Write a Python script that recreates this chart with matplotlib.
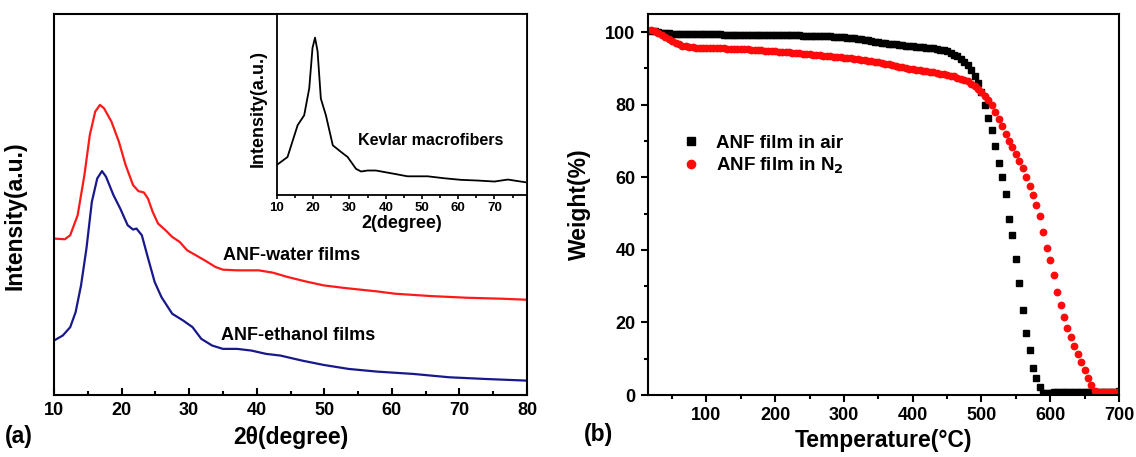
import numpy as np
import matplotlib
matplotlib.use("Agg")
import matplotlib.pyplot as plt
from matplotlib.ticker import MultipleLocator, NullLocator

plt.rcParams['font.family'] = ['Liberation Sans', 'DejaVu Sans']
plt.rcParams['font.weight'] = 'bold'
plt.rcParams['axes.labelweight'] = 'bold'

# ---------------- Panel (a): XRD ----------------
water_2theta = [10, 11.6, 12.4, 13.5, 14.5, 15.3, 16.1, 16.8, 17.4, 18.5, 19.6, 20.6, 21.7, 22.5,
                23.3, 23.9, 24.6, 25.4, 26.5, 27.5, 28.6, 29.7, 31, 32.3, 33.9, 35, 37.1, 40.3,
                42.4, 44.6, 47.2, 49.9, 53.1, 57.8, 60.5, 65.8, 71.1, 76.4, 80]
water_int = [468, 466, 478, 538, 658, 778, 848, 868, 858, 818, 758, 688, 628, 610,
             606, 588, 548, 513, 493, 473, 458, 433, 418, 403, 383, 375, 373, 373,
             366, 353, 340, 328, 320, 310, 303, 296, 291, 288, 285]

ethanol_2theta = [10, 11.3, 12.4, 13.2, 14, 14.8, 15.6, 16.4, 17.1, 17.7, 18.8, 19.8, 20.9, 21.7,
                  22.2, 23, 23.8, 24.9, 25.9, 27.5, 29.1, 30.5, 31.8, 33.4, 35, 37.1, 39.2,
                  41.4, 43.5, 46.7, 49.9, 53.6, 57.8, 63.2, 68.5, 73.8, 80]
ethanol_int = [163, 178, 203, 248, 328, 438, 578, 648, 670, 653, 598, 558, 508, 495,
               498, 478, 418, 338, 293, 243, 223, 203, 168, 148, 138, 138, 133,
               123, 118, 103, 90, 78, 70, 63, 53, 48, 43]

kevlar_2theta = [10, 12.9, 15.7, 17.5, 18.9, 19.8, 20.5, 21.2, 22.1, 23.5, 25.4, 27.7, 29.5,
                 31.8, 33.2, 35, 37.3, 42.4, 46, 51.6, 56.2, 60.8, 65.4, 70, 73.7, 78.5]
kevlar_int = [30.7, 38.6, 71, 81, 108.5, 149.5, 160, 146, 98, 81, 50.5, 43.7, 38.6,
              26.6, 23.9, 24.9, 24.9, 21.5, 19, 19, 17, 15.4, 14.7, 13.7, 15.7, 13]

# ---------------- Panel (b): TGA ----------------
temperature = np.arange(20, 705, 5)
weight_air = [100.4, 100.2, 100.0, 99.9, 99.8, 99.7, 99.6, 99.6, 99.5, 99.5,
              99.5, 99.5, 99.5, 99.4, 99.4, 99.4, 99.4, 99.4, 99.4, 99.4,
              99.4, 99.3, 99.3, 99.3, 99.3, 99.3, 99.3, 99.3, 99.3, 99.3,
              99.2, 99.2, 99.2, 99.2, 99.2, 99.2, 99.2, 99.2, 99.2, 99.1,
              99.1, 99.1, 99.1, 99.1, 99.0, 99.0, 99.0, 99.0, 98.9, 98.9,
              98.9, 98.8, 98.8, 98.7, 98.7, 98.6, 98.6, 98.5, 98.4, 98.3,
              98.2, 98.0, 97.9, 97.7, 97.5, 97.3, 97.2, 97.0, 96.9, 96.8,
              96.7, 96.6, 96.5, 96.4, 96.3, 96.2, 96.1, 96.0, 95.9, 95.8,
              95.7, 95.6, 95.5, 95.3, 95.2, 95.0, 94.7, 94.3, 93.8, 93.3,
              92.7, 91.9, 90.9, 89.6, 87.9, 85.9, 83.5, 79.8, 76.3, 73.0,
              68.5, 64.0, 60.0, 55.5, 48.6, 44.0, 37.5, 31.0, 23.5, 17.2,
              12.5, 7.5, 4.8, 2.2, 0.6, 0.6, 0.6, 0.7, 0.7, 0.7,
              0.7, 0.8, 0.8, 0.8, 0.9, 0.9, 0.9, 0.8, 0.8, 0.8,
              0.8, 0.9, 0.9, 0.9, 0.9, 0.9, 1.0]
weight_n2 = [100.6, 100.2, 99.7, 99.2, 98.6, 98.1, 97.5, 97.0, 96.6, 96.3,
             96.1, 95.9, 95.8, 95.7, 95.7, 95.6, 95.6, 95.6, 95.5, 95.5,
             95.5, 95.5, 95.4, 95.4, 95.4, 95.4, 95.3, 95.3, 95.3, 95.2,
             95.1, 95.0, 95.0, 94.9, 94.8, 94.8, 94.7, 94.6, 94.6, 94.5,
             94.4, 94.3, 94.3, 94.2, 94.1, 94.0, 93.9, 93.8, 93.7, 93.6,
             93.5, 93.4, 93.3, 93.2, 93.2, 93.1, 93.0, 92.9, 92.8, 92.6,
             92.5, 92.4, 92.3, 92.1, 92.0, 91.8, 91.7, 91.5, 91.3, 91.1,
             90.9, 90.7, 90.5, 90.3, 90.1, 89.9, 89.8, 89.6, 89.5, 89.3,
             89.2, 89.0, 88.9, 88.7, 88.6, 88.4, 88.3, 88.0, 87.8, 87.5,
             87.2, 86.8, 86.4, 85.8, 85.2, 84.4, 83.5, 82.4, 81.2, 79.8,
             78.0, 76.0, 74.0, 72.0, 70.0, 68.3, 66.5, 64.5, 62.5, 60.0,
             57.5, 55.0, 52.3, 49.2, 45.0, 40.5, 37.2, 33.0, 28.3, 24.7,
             21.4, 18.6, 15.9, 13.5, 11.4, 9.1, 6.8, 4.7, 2.8, 1.1,
             0.8, 0.8, 0.9, 0.9, 0.8, 0.9, 0.9]

W, H = 1136, 457
fig = plt.figure(figsize=(W / 100, H / 100), dpi=100)

def frac(l, t, r, b):
    return [l / W, 1 - b / H, (r - l) / W, (b - t) / H]

# ---- main (a)
axa = fig.add_axes(frac(54, 14, 527, 395))
axa.plot(water_2theta, water_int, color='#ff1a1a', lw=1.6)
axa.plot(ethanol_2theta, ethanol_int, color='#18188c', lw=1.6)
axa.set_xlim(10, 80)
axa.set_ylim(0, 1140)
axa.xaxis.set_major_locator(MultipleLocator(10))
axa.xaxis.set_minor_locator(MultipleLocator(5))
axa.yaxis.set_major_locator(NullLocator())
axa.tick_params(axis='x', which='major', direction='in', length=5, width=1.5,
                labelsize=13, pad=5)
axa.tick_params(axis='x', which='minor', direction='in', length=3, width=1.5)
for lab in axa.get_xticklabels():
    lab.set_fontweight('bold')
for s in axa.spines.values():
    s.set_linewidth(1.5)
axa.set_xlabel('2θ(degree)', fontsize=16.5, fontweight='bold', labelpad=5)
axa.set_ylabel('Intensity(a.u.)', fontsize=16.5, fontweight='bold')
axa.yaxis.set_label_coords(-0.058, 0.47)
axa.text(35, 416, 'ANF-water films', fontsize=13, fontweight='bold', va='center', ha='left')
axa.text(34.7, 178, 'ANF-ethanol films', fontsize=13, fontweight='bold', va='center', ha='left')
fig.text(5 / W, 1 - 437 / H, '(a)', fontsize=16.5, fontweight='bold', va='center', ha='left')

# ---- inset
axi = fig.add_axes(frac(277, 14, 527, 195))
axi.plot(kevlar_2theta, kevlar_int, color='black', lw=1.3)
axi.set_xlim(10, 79)
axi.set_ylim(0, 184)
axi.xaxis.set_major_locator(MultipleLocator(10))
axi.xaxis.set_minor_locator(MultipleLocator(5))
axi.yaxis.set_major_locator(NullLocator())
axi.tick_params(axis='x', which='major', direction='out', length=3, width=1.2,
                labelsize=9.5, pad=2)
axi.tick_params(axis='x', which='minor', direction='out', length=2, width=1.2)
for lab in axi.get_xticklabels():
    lab.set_fontweight('bold')
for s in axi.spines.values():
    s.set_linewidth(1.3)
axi.set_xlabel('2(degree)', fontsize=13, fontweight='bold', labelpad=1)
axi.set_ylabel('Intensity(a.u.)', fontsize=13, fontweight='bold', labelpad=2)
axi.yaxis.set_label_coords(-0.04, 0.48)
axi.text(32.3, 55.6, 'Kevlar macrofibers', fontsize=11.5, fontweight='bold', va='center', ha='left')

# ---- (b)
axb = fig.add_axes(frac(648, 14, 1119, 395))
axb.plot(temperature, weight_air, ls='none', marker='s', ms=4.2, color='black',
         mec='black', label='ANF film in air')
axb.plot(temperature, weight_n2, ls='none', marker='o', ms=4.6, color='#ff0a0a',
         mec='#ff0a0a', label='ANF film in N$_2$')
axb.set_xlim(15, 700)
axb.set_ylim(0, 105)
axb.xaxis.set_major_locator(MultipleLocator(100))
axb.xaxis.set_minor_locator(MultipleLocator(50))
axb.yaxis.set_major_locator(MultipleLocator(20))
axb.yaxis.set_minor_locator(MultipleLocator(10))
axb.tick_params(which='major', direction='out', length=5, width=1.5, labelsize=13, pad=4)
axb.tick_params(which='minor', direction='out', length=3, width=1.5)
axb.set_xticks([100, 200, 300, 400, 500, 600, 700])
for lab in axb.get_xticklabels() + axb.get_yticklabels():
    lab.set_fontweight('bold')
for s in axb.spines.values():
    s.set_linewidth(1.5)
axb.set_xlabel('Temperature(°C)', fontsize=16.5, fontweight='bold', labelpad=3)
axb.set_ylabel('Weight(%)', fontsize=16.5, fontweight='bold')
axb.yaxis.set_label_coords(-0.12, 0.5)
leg = axb.legend(loc='center left', bbox_to_anchor=(0.032, 0.63), frameon=False,
                 prop={'weight': 'bold', 'size': 13.5}, handlelength=1.2,
                 handletextpad=0.7, labelspacing=0.2, numpoints=1, markerscale=1.3)
fig.text(584 / W, 1 - 435 / H, '(b)', fontsize=16.5, fontweight='bold', va='center', ha='left')

fig.savefig('out.png', dpi=100)
